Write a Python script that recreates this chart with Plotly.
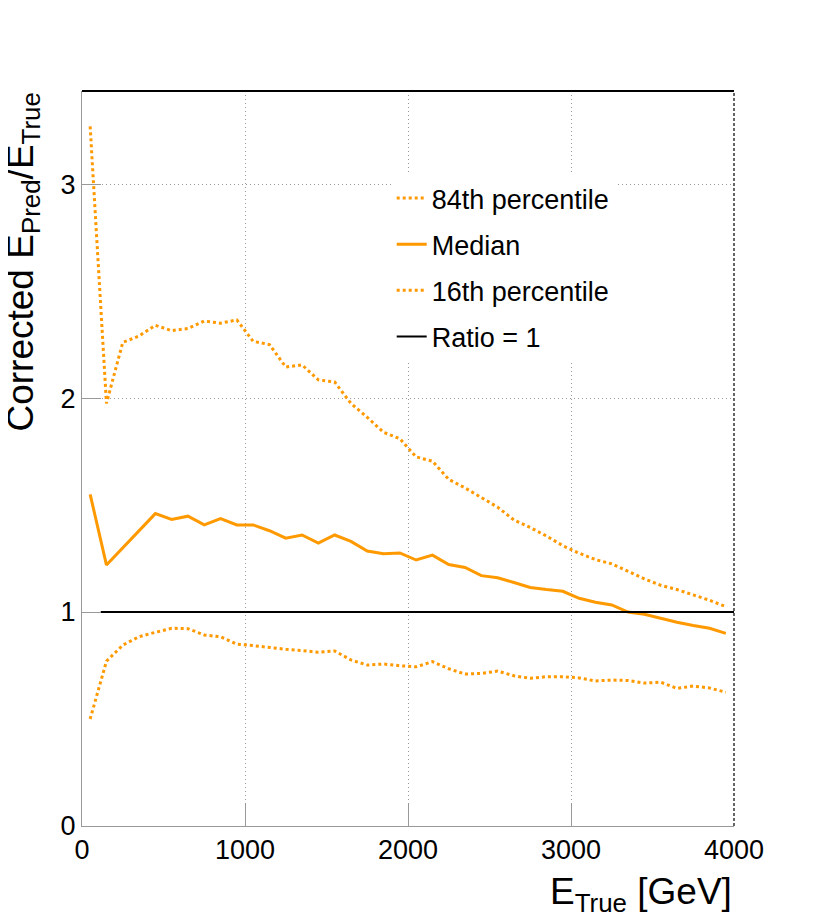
import plotly.graph_objects as go

# Bin centres (GeV)
e_true = [50, 150, 250, 350, 450, 550, 650, 750, 850, 950,
          1050, 1150, 1250, 1350, 1450, 1550, 1650, 1750, 1850, 1950,
          2050, 2150, 2250, 2350, 2450, 2550, 2650, 2750, 2850, 2950,
          3050, 3150, 3250, 3350, 3450, 3550, 3650, 3750, 3850, 3950]

p84 = [3.27, 1.975, 2.26, 2.29, 2.34, 2.315, 2.325, 2.36, 2.35, 2.365,
       2.265, 2.25, 2.145, 2.155, 2.085, 2.075, 1.975, 1.91, 1.84, 1.81,
       1.725, 1.705, 1.62, 1.58, 1.535, 1.49, 1.43, 1.395, 1.355, 1.31,
       1.275, 1.245, 1.225, 1.19, 1.155, 1.125, 1.105, 1.08, 1.055, 1.025]

median = [1.55, 1.22, None, None, 1.46, 1.433, 1.448, 1.407, 1.437, 1.407,
          1.407, 1.38, 1.345, 1.36, 1.322, 1.36, 1.33, 1.285, 1.272, 1.276,
          1.243, 1.266, 1.222, 1.208, 1.17, 1.16, 1.138, 1.115, 1.105, 1.097,
          1.064, 1.046, 1.033, 1.0, 0.99, 0.97, 0.952, 0.937, 0.924, 0.9]

p16 = [0.50, 0.77, 0.845, 0.885, 0.905, 0.924, 0.922, 0.893, 0.884, 0.85,
       0.843, 0.833, 0.826, 0.82, 0.812, 0.818, 0.776, 0.752, 0.757, 0.749,
       0.744, 0.768, 0.735, 0.71, 0.713, 0.724, 0.702, 0.69, 0.698, 0.698,
       0.692, 0.678, 0.682, 0.68, 0.668, 0.672, 0.643, 0.654, 0.645, 0.625]

ratio_x = [115, 4000]
ratio_y = [1, 1]

x_ticks = [0, 1000, 2000, 3000, 4000]
y_ticks = [0, 1, 2, 3]

ORANGE = "#ff9900"
FONT = "Liberation Sans, Arial, sans-serif"

fig = go.Figure()
fig.add_trace(go.Scatter(x=e_true, y=p84, mode="lines", name="84th percentile",
                         line=dict(color=ORANGE, width=3, dash="dot"), legendgroup="a"))
fig.add_trace(go.Scatter(x=e_true, y=median, mode="lines", name="Median", connectgaps=True,
                         line=dict(color=ORANGE, width=3), legendgroup="b"))
fig.add_trace(go.Scatter(x=e_true, y=p16, mode="lines", name="16th percentile",
                         line=dict(color=ORANGE, width=3, dash="dot"), legendgroup="c"))
fig.add_trace(go.Scatter(x=ratio_x, y=ratio_y, mode="lines", name="Ratio = 1",
                         line=dict(color="black", width=2), legendgroup="d"))

axis_common = dict(
    showline=True, linecolor="#999999", linewidth=1,
    ticks="inside", tickcolor="#999999", tickwidth=1,
    showgrid=True, gridcolor="#999999", gridwidth=1, griddash="1px,3px",
    zeroline=False, tickfont=dict(family=FONT, size=27, color="black"),
)

fig.update_layout(
    width=816, height=918,
    margin=dict(l=74, r=90, t=83, b=100),
    plot_bgcolor="white", paper_bgcolor="white",
    font=dict(family=FONT, color="black"),
    xaxis=dict(range=[0, 4000], tickvals=x_ticks, ticklen=23, **axis_common),
    yaxis=dict(range=[0, 3.435], tickvals=y_ticks, ticklen=19, **axis_common),
    legend=dict(x=0.475, y=0.887, xanchor="left", yanchor="top",
                bgcolor="white", borderwidth=0,
                font=dict(family=FONT, size=27, color="black"),
                traceorder="grouped", tracegroupgap=8),
    shapes=[
        dict(type="line", xref="paper", yref="paper", x0=0, x1=1, y0=1, y1=1,
             line=dict(color="black", width=2)),
        dict(type="line", xref="paper", yref="paper", x0=1, x1=1, y0=0, y1=1,
             line=dict(color="black", width=1.2, dash="3px,2px")),
    ],
    annotations=[
        dict(text="E<sub>True</sub> [GeV]", xref="paper", yref="paper",
             x=1, y=-0.058, xanchor="right", yanchor="top", showarrow=False,
             font=dict(family=FONT, size=37, color="black")),
        dict(text="Corrected E<sub>Pred</sub>/E<sub>True</sub>", xref="paper", yref="paper",
             x=-0.092, y=1.0, xanchor="center", yanchor="top", textangle=-90, showarrow=False,
             font=dict(family=FONT, size=37, color="black")),
    ],
)

fig.write_html("out.html")
